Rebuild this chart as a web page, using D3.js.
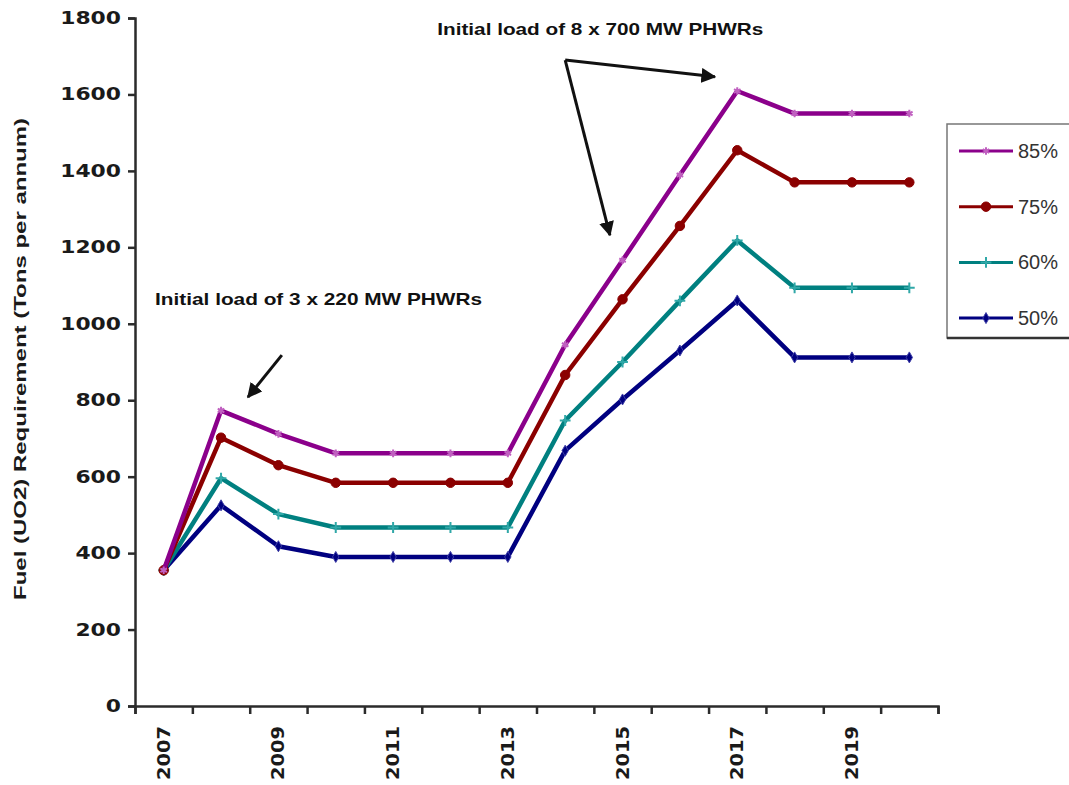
<!DOCTYPE html>
<html><head><meta charset="utf-8">
<script src="https://cdn.jsdelivr.net/npm/d3@7"></script>
<style>body{margin:0;background:#fff}svg{display:block}</style>
</head><body>
<svg id="c" width="1069" height="785"></svg>
<script>
const years = [2007,2008,2009,2010,2011,2012,2013,2014,2015,2016,2017,2018,2019,2020];
const yearLabels = [2007,2009,2011,2013,2015,2017,2019];
const yTicks = [0,200,400,600,800,1000,1200,1400,1600,1800];
const s85 = [355,773,712,661,661,661,661,945,1166,1389,1609,1550,1550,1550];
const s75 = [355,702,630,584,584,584,584,866,1064,1256,1454,1370,1370,1370];
const s60 = [355,596,502,467,467,467,467,747,900,1060,1218,1094,1094,1094];
const s50 = [355,525,418,390,390,390,390,668,802,930,1061,912,912,912];
const seriesNames = ["85%","75%","60%","50%"];
const seriesColors = ["#8B008B","#8B0000","#008080","#000080"];
const annoTexts = ["Initial load of 3 x 220 MW PHWRs","Initial load of 8 x 700 MW PHWRs"];

const svg = d3.select("#c");
const L=135,R=938,T=18,B=706;
const x = d3.scaleBand().domain(years).range([L,R]).padding(0);
const xLin = d3.scaleLinear().domain([2006.5,2020.5]).range([L,R]);
const y = d3.scaleLinear().domain([0,1800]).range([B,T]);
const axisColor="#2b2b2b";

// Y axis
const ya = svg.append("g").attr("transform",`translate(${L},0)`)
  .call(d3.axisLeft(y).tickValues(yTicks).tickFormat(d3.format("d")).tickSize(7).tickPadding(7));
ya.select(".domain").attr("stroke",axisColor).attr("stroke-width",2.5);
ya.selectAll(".tick line").attr("stroke",axisColor).attr("stroke-width",2.5);
ya.selectAll(".tick text").attr("font-family","DejaVu Sans").attr("font-weight","bold")
  .attr("font-size",17).attr("fill","#1a1a1a")
  .attr("textLength",d=>String(d).length*15.2).attr("lengthAdjust","spacingAndGlyphs");

// X axis boundary ticks
const xb = svg.append("g").attr("transform",`translate(0,${B})`)
  .call(d3.axisBottom(xLin).tickValues(d3.range(2006.5,2021,1)).tickSize(8).tickFormat(""));
xb.select(".domain").attr("stroke",axisColor).attr("stroke-width",2.5);
xb.selectAll(".tick line").attr("stroke",axisColor).attr("stroke-width",2.5);

// X labels
svg.append("g").selectAll("text").data(yearLabels).join("text")
  .attr("transform",d=>`translate(${x(d)+x.bandwidth()/2+6},${B+20}) rotate(-90)`)
  .attr("text-anchor","end")
  .attr("font-family","DejaVu Sans").attr("font-weight","bold").attr("font-size",17)
  .attr("fill","#1a1a1a")
  .attr("textLength",54).attr("lengthAdjust","spacingAndGlyphs")
  .text(d=>d);

// Y title
svg.append("text").attr("transform","translate(26,359) rotate(-90)")
  .attr("text-anchor","middle").attr("font-family","Liberation Sans Narrow, Liberation Sans, Arial")
  .attr("font-weight","bold").attr("font-size",17).attr("fill","#1a1a1a")
  .attr("textLength",482).attr("lengthAdjust","spacingAndGlyphs")
  .text("Fuel (UO2) Requirement (Tons per annum)");

// Series
const series = [s85,s75,s60,s50];
const cx = d=>x(d)+x.bandwidth()/2;
const line = d3.line().x((d,i)=>cx(years[i])).y(d=>y(d));
const symbols = [d3.symbolAsterisk, d3.symbolCircle, d3.symbolPlus, d3.symbolDiamond];
const symSizes = [40, 70, 40, 35];

function drawMarker(g, k, px, py){
  const c = seriesColors[k];
  if(k===0){
    g.append("path").attr("d",d3.symbol(symbols[0],symSizes[0])()).attr("transform",`translate(${px},${py})`)
      .attr("fill","none").attr("stroke","#c060c0").attr("stroke-width",2);
  } else if(k===2){
    g.append("path").attr("d",d3.symbol(symbols[2],symSizes[2])()).attr("transform",`translate(${px},${py})`)
      .attr("fill","none").attr("stroke","#30a8a8").attr("stroke-width",2);
  } else {
    g.append("path").attr("d",d3.symbol(symbols[k],symSizes[k])()).attr("transform",`translate(${px},${py})`)
      .attr("fill",c).attr("stroke",k===3?"#4040a8":c).attr("stroke-width",1);
  }
}

for(let k=series.length-1;k>=0;k--){
  const g = svg.append("g");
  g.append("path").datum(series[k]).attr("d",line).attr("fill","none")
    .attr("stroke",seriesColors[k]).attr("stroke-width",4.5).attr("stroke-linejoin","round");
  series[k].forEach((v,i)=>drawMarker(g,k,cx(years[i]),y(v)));
}

// Legend
const lg = svg.append("g");
lg.append("rect").attr("x",947).attr("y",124).attr("width",130).attr("height",214)
  .attr("fill","#fff").attr("stroke","#777").attr("stroke-width",1.5);
lg.append("line").attr("x1",947).attr("x2",1069).attr("y1",338).attr("y2",338).attr("stroke","#333").attr("stroke-width",2.5);
seriesNames.forEach((n,k)=>{
  const yy = 151 + k*55.7;
  lg.append("line").attr("x1",959).attr("x2",1013).attr("y1",yy).attr("y2",yy)
    .attr("stroke",seriesColors[k]).attr("stroke-width",3);
  drawMarker(lg,k,986,yy);
  lg.append("text").attr("x",1018).attr("y",yy+7).attr("font-family","Liberation Sans, Arial")
    .attr("font-size",20).attr("fill","#333").text(n);
});

// Annotations (data-space anchors)
const defs = svg.append("defs");
defs.append("marker").attr("id","ah").attr("viewBox","0 0 10 10").attr("refX",9).attr("refY",5)
  .attr("markerWidth",5).attr("markerHeight",5).attr("orient","auto-start-reverse")
  .append("path").attr("d","M0,0 L10,5 L0,10 Z").attr("fill","#111");

const arrows = [
  {x1:2009.06,y1:918,x2:2008.47,y2:808},
  {x1:2014.0,y1:1690,x2:2016.61,y2:1646},
  {x1:2014.0,y1:1690,x2:2014.78,y2:1232}
];
svg.append("g").selectAll("line").data(arrows).join("line")
  .attr("x1",d=>xLin(d.x1)).attr("y1",d=>y(d.y1)).attr("x2",d=>xLin(d.x2)).attr("y2",d=>y(d.y2))
  .attr("stroke","#111").attr("stroke-width",3).attr("marker-end","url(#ah)");

const annos = [
  {t:annoTexts[0], x:2006.85, y:1049, w:327},
  {t:annoTexts[1], x:2011.77, y:1756, w:326}
];
svg.append("g").selectAll("text").data(annos).join("text")
  .attr("x",d=>xLin(d.x)).attr("y",d=>y(d.y))
  .attr("font-family","Liberation Sans Narrow, Liberation Sans, Arial").attr("font-weight","bold")
  .attr("font-size",17).attr("fill","#111")
  .attr("textLength",d=>d.w).attr("lengthAdjust","spacingAndGlyphs")
  .text(d=>d.t);
</script>
</body></html>
